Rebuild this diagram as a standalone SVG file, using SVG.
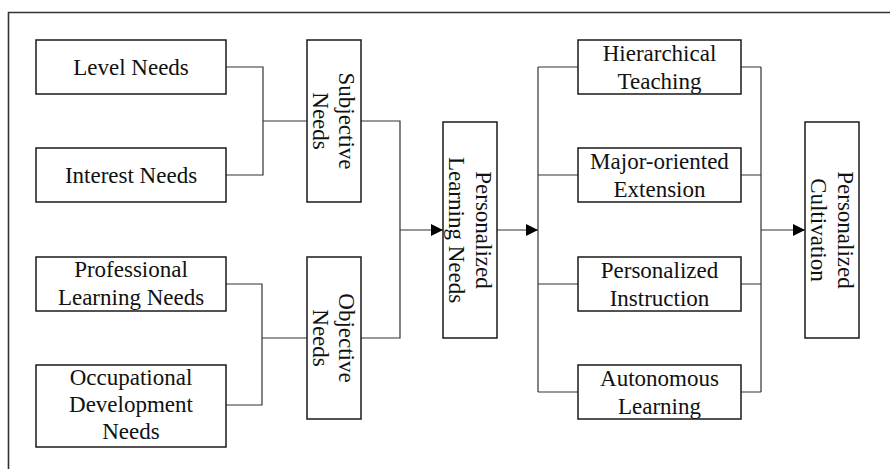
<svg xmlns="http://www.w3.org/2000/svg" width="890" height="469" viewBox="0 0 890 469" font-family="'Liberation Serif', 'DejaVu Serif', serif">
<style>
.box{fill:#fff;stroke:#1a1a1a;stroke-width:1.5}
.t{font-family:'Liberation Serif','DejaVu Serif',serif;font-size:23px;fill:#111;text-anchor:middle}
.c{fill:none;stroke:#333;stroke-width:1.2}
.frame{fill:none;stroke:#333;stroke-width:1.6}
</style>
<defs>
<marker id="arr" viewBox="0 0 12 12" refX="12" refY="6" markerWidth="12" markerHeight="12" markerUnits="userSpaceOnUse" orient="auto">
<path d="M0,0 L12,6 L0,12 Z" fill="#000"/>
</marker>
</defs>
<rect width="890" height="469" fill="#fff"/>
<path class="frame" d="M8.5,469 V12.5 H890"/>

<g id="connectors">
<path class="c" d="M226,67 H263 V175 H226 M263,121 H307"/>
<path class="c" d="M226,284 H262 V405 H226 M262,338 H307"/>
<path class="c" d="M361,121 H400 V338 H361"/>
<path class="c" d="M400,230 H443" marker-end="url(#arr)"/>
<path class="c" d="M497,230 H538" marker-end="url(#arr)"/>
<path class="c" d="M538,67 V392 M538,67 H578 M538,175 H578 M538,284 H578 M538,392 H578"/>
<path class="c" d="M741,67 H761 M741,175 H761 M741,284 H761 M741,392 H761 M761,67 V392"/>
<path class="c" d="M761,230 H805" marker-end="url(#arr)"/>
</g>

<g id="level-needs">
<rect class="box" x="36" y="40" width="190" height="54"/>
<text class="t" x="131" y="75">Level Needs</text>
</g>
<g id="interest-needs">
<rect class="box" x="36" y="148" width="190" height="54"/>
<text class="t" x="131" y="183">Interest Needs</text>
</g>
<g id="professional-learning-needs">
<rect class="box" x="36" y="257" width="190" height="54"/>
<text class="t" x="131" y="277">Professional</text>
<text class="t" x="131" y="304.5">Learning Needs</text>
</g>
<g id="occupational-development-needs">
<rect class="box" x="36" y="365" width="190" height="82"/>
<text class="t" x="131" y="385">Occupational</text>
<text class="t" x="131" y="412">Development</text>
<text class="t" x="131" y="438.5">Needs</text>
</g>

<g id="subjective-needs">
<rect class="box" x="307" y="40" width="54" height="162"/>
<g transform="translate(334,121) rotate(90)">
<text class="t" x="0" y="-5">Subjective</text>
<text class="t" x="0" y="21.5">Needs</text>
</g>
</g>
<g id="objective-needs">
<rect class="box" x="307" y="257" width="54" height="162"/>
<g transform="translate(334,338) rotate(90)">
<text class="t" x="0" y="-5">Objective</text>
<text class="t" x="0" y="21.5">Needs</text>
</g>
</g>

<g id="personalized-learning-needs">
<rect class="box" x="443" y="122" width="54" height="216"/>
<g transform="translate(470,230) rotate(90)">
<text class="t" x="0" y="-5.5">Personalized</text>
<text class="t" x="0" y="21.5">Learning Needs</text>
</g>
</g>

<g id="hierarchical-teaching">
<rect class="box" x="578" y="40" width="163" height="54"/>
<text class="t" x="659.5" y="60.5">Hierarchical</text>
<text class="t" x="659.5" y="88.5">Teaching</text>
</g>
<g id="major-oriented-extension">
<rect class="box" x="578" y="148" width="163" height="54"/>
<text class="t" x="659.5" y="168.5">Major-oriented</text>
<text class="t" x="659.5" y="196.5">Extension</text>
</g>
<g id="personalized-instruction">
<rect class="box" x="578" y="257" width="163" height="54"/>
<text class="t" x="659.5" y="277.5">Personalized</text>
<text class="t" x="659.5" y="305.5">Instruction</text>
</g>
<g id="autonomous-learning">
<rect class="box" x="578" y="365" width="163" height="54"/>
<text class="t" x="659.5" y="385.5">Autonomous</text>
<text class="t" x="659.5" y="413.5">Learning</text>
</g>

<g id="personalized-cultivation">
<rect class="box" x="805" y="122" width="54" height="216"/>
<g transform="translate(832,230) rotate(90)">
<text class="t" x="0" y="-5.5">Personalized</text>
<text class="t" x="0" y="21.5">Cultivation</text>
</g>
</g>
</svg>
